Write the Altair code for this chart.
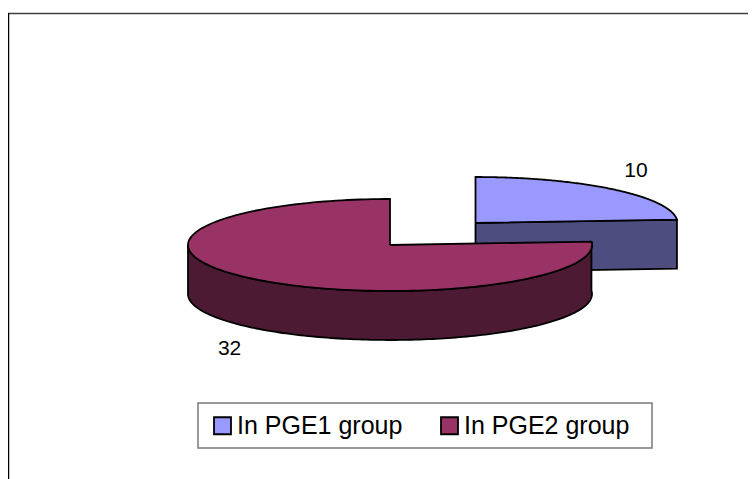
import numpy as np
import pandas as pd
import altair as alt

series = ["In PGE1 group", "In PGE2 group"]
values = [10, 32]
top_colors = ["#9999FF", "#993366"]
side_colors = ["#4D4D80", "#4D1A33"]

# projection of the tilted pie, in reference pixels
RX, RY, DEPTH = 202.0, 46.0, 49.0
CENTERS = [(475.5, 223.0), (390.0, 245.0)]
LINE = 1.8

fractions = np.array(values) / sum(values)
ends = np.cumsum(fractions) * 2 * np.pi
starts = ends - fractions * 2 * np.pi


def rim(i, angles, drop=0.0):
    cx, cy = CENTERS[i]
    return [(cx + RX * np.sin(a), cy - RY * np.cos(a) + drop) for a in angles]


def frame(points, name):
    rows = [{"px": p[0], "py": p[1], "k": k, "series": name} for k, p in enumerate(points)]
    return pd.DataFrame(rows)


def top_face(i):
    arc = rim(i, np.linspace(starts[i], ends[i], 160))
    c = CENTERS[i]
    return frame([c] + arc + [c], series[i])


# small slice: the exposed flat cut along its end radius
c0 = CENTERS[0]
end_pt = rim(0, [ends[0]])[0]
small_side = frame(
    [c0, end_pt, (end_pt[0], end_pt[1] + DEPTH), (c0[0], c0[1] + DEPTH), c0], series[0]
)

# big slice: curved wall on the front half of the ellipse
wall_angles = np.linspace(starts[1], 1.5 * np.pi, 160)
wall_top = rim(1, wall_angles)
wall_bottom = rim(1, wall_angles[::-1], DEPTH)
big_side = frame(wall_top + wall_bottom + [wall_top[0]], series[1])

x = alt.X("px:Q", scale=alt.Scale(domain=[8, 748], range=[0, 740]), axis=None)
y = alt.Y("py:Q", scale=alt.Scale(domain=[8, 479], range=[0, 471]), axis=None)
fill_scale = alt.Scale(domain=series, range=top_colors)
legend = alt.Legend(
    title=None,
    orient="none",
    legendX=202,
    legendY=405,
    direction="horizontal",
    columns=2,
    columnPadding=34,
    symbolType="square",
    symbolSize=289,
    symbolStrokeColor="black",
    symbolStrokeWidth=1.8,
    symbolOpacity=1,
    labelFont="Liberation Sans",
    labelFontSize=25,
    labelColor="black",
    labelLimit=300,
    labelOffset=2,
    padding=0,
)


def side_layer(df, color):
    return (
        alt.Chart(df)
        .mark_line(fill=color, stroke="black", strokeWidth=LINE, strokeJoin="miter")
        .encode(x=x, y=y, order="k:Q")
    )


def top_layer(df):
    return (
        alt.Chart(df)
        .mark_line(stroke="black", strokeWidth=LINE, strokeJoin="miter")
        .encode(
            x=x,
            y=y,
            order="k:Q",
            fill=alt.Fill("series:N", scale=fill_scale, legend=legend),
        )
    )


# data labels anchored on the rim at each slice's mid angle
mids = (starts + ends) / 2
label_rows = [
    {"px": rim(i, [mids[i]])[0][0], "py": rim(i, [mids[i]])[0][1], "label": str(values[i])}
    for i in range(2)
]
labels_small = (
    alt.Chart(pd.DataFrame(label_rows[:1]))
    .mark_text(font="Liberation Sans", fontSize=21, color="black", dx=23, dy=-18)
    .encode(x=x, y=y, text="label:N")
)
labels_big = (
    alt.Chart(pd.DataFrame(label_rows[1:]))
    .mark_text(font="Liberation Sans", fontSize=21, color="black", dx=-23, dy=70)
    .encode(x=x, y=y, text="label:N")
)

dummy = pd.DataFrame({"a": [0]})
frame_top = (
    alt.Chart(dummy)
    .mark_rule(color="#404040", strokeWidth=1.3)
    .encode(x=alt.value(0), x2=alt.value(740), y=alt.value(5.5))
)
frame_left = (
    alt.Chart(dummy)
    .mark_rule(color="black", strokeWidth=1.3)
    .encode(x=alt.value(0.6), y=alt.value(5), y2=alt.value(471))
)
legend_box = (
    alt.Chart(dummy)
    .mark_rect(fill="white", stroke="#7a7a7a", strokeWidth=1.5)
    .encode(x=alt.value(190), x2=alt.value(644), y=alt.value(395), y2=alt.value(440))
)

chart = (
    alt.layer(
        frame_top,
        frame_left,
        side_layer(small_side, side_colors[0]),
        top_layer(top_face(0)),
        side_layer(big_side, side_colors[1]),
        top_layer(top_face(1)),
        labels_small,
        labels_big,
        legend_box,
    )
    .properties(width=740, height=471, padding=0, autosize=alt.AutoSizeParams(type="none"), background="white")
    .configure_view(stroke=None)
)

chart.save("out.html", embed_options={"renderer": "svg", "actions": False})
